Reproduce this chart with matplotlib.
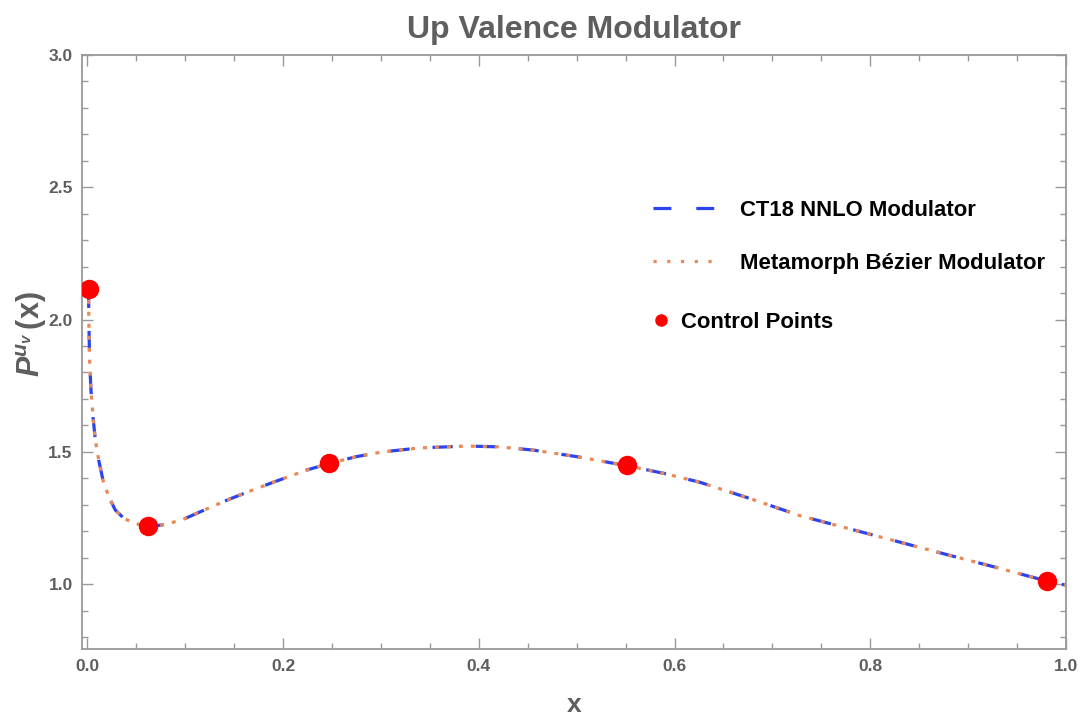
import matplotlib
matplotlib.use("Agg")
import matplotlib.pyplot as plt
from matplotlib.lines import Line2D
from matplotlib.ticker import MultipleLocator

# valeurs
x_curve = [0.001, 0.0013, 0.0017, 0.0024, 0.0037, 0.0058, 0.0082, 0.0116, 0.016,
           0.022, 0.0286, 0.037, 0.047, 0.063, 0.08, 0.098, 0.12, 0.143, 0.165,
           0.187, 0.224, 0.247, 0.275, 0.302, 0.34, 0.388, 0.42, 0.455, 0.50,
           0.551, 0.59, 0.626, 0.68, 0.728, 0.78, 0.830, 0.88, 0.932, 0.981, 1.0]
y_ct18 = [2.12, 2.074, 1.960, 1.836, 1.733, 1.631, 1.544, 1.469, 1.393,
          1.329, 1.280, 1.250, 1.231, 1.217, 1.226, 1.245, 1.281, 1.318, 1.350,
          1.381, 1.431, 1.456, 1.482, 1.500, 1.515, 1.522, 1.519, 1.507, 1.482,
          1.448, 1.418, 1.385, 1.320, 1.259, 1.208, 1.159, 1.110, 1.060, 1.011, 0.996]
y_bezier = list(y_ct18)

x_ctrl = [0.002, 0.062, 0.247, 0.551, 0.981]
y_ctrl = [2.115, 1.219, 1.457, 1.450, 1.011]

gris = "#5e5e5e"
cadre = "#999999"
bleu = "#2a45f0"
orange = "#e88a55"

plt.rcParams["font.family"] = ["Liberation Sans", "DejaVu Sans"]
plt.rcParams["mathtext.fontset"] = "custom"
plt.rcParams["mathtext.rm"] = "Liberation Sans"
plt.rcParams["mathtext.bf"] = "Liberation Sans:bold"
plt.rcParams["mathtext.it"] = "Liberation Sans:italic"
plt.rcParams["mathtext.bfit"] = "Liberation Sans:bold:italic"

fig = plt.figure(figsize=(10.82, 7.19), dpi=100)
ax = fig.add_axes([0.0762, 0.0974, 0.909, 0.8261])

lw = 2.3
ax.plot(x_curve, y_ct18, color=bleu, lw=lw, dashes=(6.3, 7.2),
        dash_capstyle="butt")
ax.plot(x_curve, y_bezier, color=orange, lw=lw, dashes=(1.25, 2.5),
        dash_capstyle="butt")
ax.plot(x_ctrl, y_ctrl, "o", color="red", ms=13, zorder=5)

ax.set_xlim(-0.005, 1.0)
ax.set_ylim(0.755, 3.0)
ax.xaxis.set_major_locator(MultipleLocator(0.2))
ax.xaxis.set_minor_locator(MultipleLocator(0.05))
ax.yaxis.set_major_locator(MultipleLocator(0.5))
ax.yaxis.set_minor_locator(MultipleLocator(0.1))
ax.tick_params(which="both", direction="in", top=True, right=True,
               color=cadre, labelcolor=gris, width=1.0)
ax.tick_params(which="major", length=8, labelsize=12.5, pad=7)
ax.tick_params(which="minor", length=4)
for lab in ax.get_xticklabels() + ax.get_yticklabels():
    lab.set_fontweight("bold")
for s in ax.spines.values():
    s.set_color(cadre)
    s.set_linewidth(1.3)

ax.set_title("Up Valence Modulator", fontsize=23, fontweight="bold",
             color=gris, pad=12)
ax.set_xlabel("x", fontsize=19, fontweight="bold", color=gris, labelpad=14)
ax.set_ylabel(r"$\mathbfit{P}^{\mathbfit{u}_{\mathbfit{v}}}\,\mathbf{(x)}$",
              fontsize=22, color=gris)
ax.yaxis.set_label_coords(-0.034, 0.53)

h1 = [Line2D([], [], color=bleu, lw=lw, dashes=(5.6, 7.8)),
      Line2D([], [], color=orange, lw=lw, dashes=(1.0, 3.3))]
leg1 = fig.legend(h1, ["CT18 NNLO Modulator", "Metamorph Bézier Modulator"],
                  loc="upper left", bbox_to_anchor=(0.6035, 0.7225),
                  frameon=False, borderpad=0, borderaxespad=0,
                  handlelength=3.1, handletextpad=0.85, labelspacing=1.45,
                  prop={"weight": "bold", "size": 15.9})
h2 = [Line2D([], [], ls="", marker="o", color="red", ms=8)]
leg2 = fig.legend(h2, ["Control Points"], loc="upper left",
                  bbox_to_anchor=(0.6035, 0.5665), frameon=False,
                  borderpad=0, borderaxespad=0, handlelength=0.75,
                  handletextpad=0.5, prop={"weight": "bold", "size": 15.9})

fig.savefig("out.png", dpi=100)
